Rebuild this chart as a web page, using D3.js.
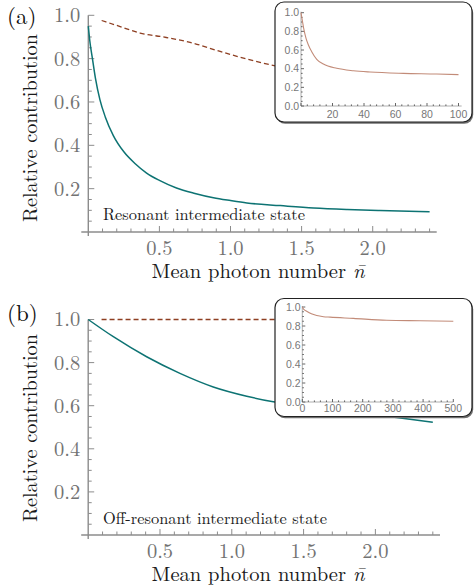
<!DOCTYPE html>
<html>
<head>
<meta charset="utf-8">
<script src="https://cdn.jsdelivr.net/npm/d3@7"></script>
<style>
  html, body { margin: 0; padding: 0; background: #fff; }
  svg { display: block; }
</style>
</head>
<body>
<svg id="fig" width="474" height="588"></svg>
<script>
// ---- Panel (a): resonant intermediate state ----
const nResTeal  = [0, 0.01, 0.029, 0.05, 0.082, 0.12, 0.176, 0.25, 0.33, 0.41, 0.5, 0.62, 0.75, 0.88, 1.0, 1.115, 1.35, 1.585, 1.82, 2.05, 2.4];
const vResTeal  = [0.95, 0.885, 0.80, 0.71, 0.61, 0.53, 0.445, 0.37, 0.315, 0.272, 0.238, 0.203, 0.178, 0.158, 0.145, 0.134, 0.122, 0.111, 0.104, 0.099, 0.093];
const nResDash  = [0.094, 0.224, 0.364, 0.528, 0.716, 0.927, 1.115, 1.315, 1.45];
const vResDash  = [0.976, 0.948, 0.918, 0.90, 0.875, 0.833, 0.798, 0.767, 0.75];
const nResInset = [0, 0.8, 1.9, 3.2, 4.7, 6.8, 10, 14.2, 22.7, 33.2, 43.8, 65, 86, 100];
const vResInset = [1.0, 0.92, 0.815, 0.725, 0.654, 0.582, 0.50, 0.45, 0.404, 0.378, 0.364, 0.35, 0.343, 0.336];

// ---- Panel (b): off-resonant intermediate state ----
const nOffTeal  = [0, 0.175, 0.407, 0.639, 0.871, 1.104, 1.289, 1.5, 1.75, 2.0, 2.148, 2.4];
const vOffTeal  = [1.0, 0.92, 0.827, 0.75, 0.687, 0.644, 0.618, 0.598, 0.578, 0.558, 0.545, 0.523];
const nOffDash  = [0.093, 2.4];
const vOffDash  = [1.0, 1.0];
const nOffInset = [0, 5, 14.5, 30, 47.7, 70, 92, 169, 279, 390, 500];
const vOffInset = [1.0, 0.975, 0.955, 0.928, 0.91, 0.898, 0.893, 0.88, 0.86, 0.855, 0.85];

// ---- Tick values and labels ----
const mainYTicks = [0.2, 0.4, 0.6, 0.8, 1.0];
const mainXTicks = [0.5, 1.0, 1.5, 2.0];
const insetYTicks = [0, 0.2, 0.4, 0.6, 0.8, 1.0];
const insetXTicksRes = [20, 40, 60, 80, 100];
const insetXTicksOff = [0, 100, 200, 300, 400, 500];

const yTitle = "Relative contribution";
const panelLabels = ["(a)", "(b)"];
const notes = ["Resonant intermediate state", "Off-resonant intermediate state"];

const zip = (xs, ys) => xs.map((x, i) => [x, ys[i]]);

const svg = d3.select("#fig");
const SERIF = '"Latin Modern Roman", "Liberation Serif", "Times New Roman", serif';
const SANS = '"Liberation Sans", Arial, "DejaVu Sans", sans-serif';
const TEAL = "#0d7373";
const BROWN = "#8e3f22";
const INSET_LINE = "#c28b78";
const AXIS = "#8c8c8c";

function drawPanel(cfg) {
  const g = svg.append("g");
  const x = d3.scaleLinear().domain([0, 2.45]).range([cfg.x0, cfg.x1]);
  const y = d3.scaleLinear().domain([0, 1]).range([cfg.y0, cfg.y1]);

  // axis lines, crossing at the origin
  g.append("line").attr("x1", cfg.x0 - 7).attr("x2", cfg.x1)
    .attr("y1", cfg.y0).attr("y2", cfg.y0)
    .attr("stroke", AXIS).attr("stroke-width", 1.4);
  g.append("line").attr("x1", cfg.x0).attr("x2", cfg.x0)
    .attr("y1", cfg.y1).attr("y2", cfg.y0 + 4)
    .attr("stroke", AXIS).attr("stroke-width", 1.4);

  // y ticks: minor every 0.05, major every 0.2
  d3.range(1, 21).forEach(i => {
    const v = i * 0.05;
    const major = i % 4 === 0;
    g.append("line").attr("x1", cfg.x0).attr("x2", cfg.x0 + (major ? 6 : 3.5))
      .attr("y1", y(v)).attr("y2", y(v))
      .attr("stroke", AXIS).attr("stroke-width", 1);
  });
  // x ticks: minor every 0.1, major every 0.5
  d3.range(1, 25).forEach(i => {
    const v = i * 0.1;
    const major = i % 5 === 0;
    g.append("line").attr("x1", x(v)).attr("x2", x(v))
      .attr("y1", cfg.y0).attr("y2", cfg.y0 - (major ? 6 : 3.5))
      .attr("stroke", AXIS).attr("stroke-width", 1);
  });

  // tick labels
  g.selectAll(".yl").data(mainYTicks).enter().append("text")
    .style("font-family", SERIF)
    .attr("x", cfg.x0 - 8).attr("y", d => y(d)).attr("dy", "0.34em")
    .attr("text-anchor", "end").attr("font-size", 20.5)
    .attr("fill", "#737373").text(d => d.toFixed(1));
  g.selectAll(".xl").data(mainXTicks).enter().append("text")
    .style("font-family", SERIF)
    .attr("x", d => x(d)).attr("y", cfg.y0 + 22.5)
    .attr("text-anchor", "middle").attr("font-size", 20.5)
    .attr("fill", "#737373").text(d => d.toFixed(1));

  // axis titles
  g.append("text").style("font-family", SERIF)
    .attr("transform", `translate(37,${cfg.titleY}) rotate(-90)`)
    .attr("text-anchor", "middle").attr("font-size", 20.5)
    .attr("fill", "#1a1a1a").attr("textLength", 188).attr("lengthAdjust", "spacingAndGlyphs")
    .text(yTitle);
  const xt = g.append("text").style("font-family", SERIF)
    .attr("x", 258).attr("y", cfg.y0 + 45.5)
    .attr("text-anchor", "middle").attr("font-size", 20.5)
    .attr("fill", "#1a1a1a").attr("textLength", 213).attr("lengthAdjust", "spacingAndGlyphs");
  xt.append("tspan").text("Mean photon number ");
  xt.append("tspan").attr("font-style", "italic").text("n\u0304");

  // panel label
  g.append("text").style("font-family", SERIF).attr("x", 7).attr("y", cfg.labelY)
    .attr("font-size", 23).attr("fill", "#111")
    .text(cfg.label);

  // annotation
  g.append("text").style("font-family", SERIF).attr("x", 103).attr("y", cfg.noteY)
    .attr("font-size", 16.5).attr("fill", "#1a1a1a")
    .attr("textLength", cfg.noteLen).attr("lengthAdjust", "spacingAndGlyphs")
    .text(cfg.note);

  const line = d3.line().x(d => x(d[0])).y(d => y(d[1])).curve(d3.curveMonotoneX);

  g.append("path").datum(cfg.dash).attr("d", line)
    .attr("fill", "none").attr("stroke", BROWN).attr("stroke-width", 1.3)
    .attr("stroke-dasharray", "5,3");
  g.append("path").datum(cfg.teal).attr("d", line)
    .attr("fill", "none").attr("stroke", TEAL).attr("stroke-width", 1.5);

  // inset with the large-n behaviour
  const ins = cfg.inset;
  const ig = svg.append("g");
  ig.append("rect").attr("x", ins.bx + 1.2).attr("y", ins.by + 1.8)
    .attr("width", ins.bw).attr("height", ins.bh).attr("rx", 9)
    .attr("fill", "#6f6f6f");
  ig.append("rect").attr("x", ins.bx).attr("y", ins.by)
    .attr("width", ins.bw).attr("height", ins.bh).attr("rx", 9)
    .attr("fill", "#fff").attr("stroke", "#222").attr("stroke-width", 1.2);

  const ix = d3.scaleLinear().domain([0, ins.xmax]).range([ins.x0, ins.x1]);
  const iy = d3.scaleLinear().domain([0, 1]).range([ins.y0, ins.y1]);

  ig.append("line").attr("x1", ins.x0).attr("x2", ix(ins.xend))
    .attr("y1", ins.y0).attr("y2", ins.y0).attr("stroke", "#9a9a9a").attr("stroke-width", 0.8);
  ig.append("line").attr("x1", ins.x0).attr("x2", ins.x0)
    .attr("y1", iy(1.0) - 1).attr("y2", ins.y0).attr("stroke", "#9a9a9a").attr("stroke-width", 0.8);

  d3.range(0, 21).forEach(i => {
    const v = i * 0.05;
    const major = i % 4 === 0;
    ig.append("line").attr("x1", ins.x0).attr("x2", ins.x0 + (major ? 3 : 1.6))
      .attr("y1", iy(v)).attr("y2", iy(v)).attr("stroke", "#555").attr("stroke-width", 0.9);
  });
  d3.range(0, Math.floor(ins.xend / ins.minor) + 1).forEach(i => {
    const v = i * ins.minor;
    const major = Math.abs(v / ins.major - Math.round(v / ins.major)) < 1e-6;
    ig.append("line").attr("x1", ix(v)).attr("x2", ix(v))
      .attr("y1", ins.y0).attr("y2", ins.y0 - (major ? 3 : 1.6))
      .attr("stroke", "#555").attr("stroke-width", 0.9);
  });

  ig.selectAll(".iyl").data(insetYTicks).enter().append("text")
    .style("font-family", SANS)
    .attr("x", ins.x0 - 1.8).attr("y", d => iy(d)).attr("dy", "0.35em")
    .attr("text-anchor", "end").attr("font-size", 10.5)
    .attr("fill", "#777").text(d => d.toFixed(1));
  ig.selectAll(".ixl").data(ins.xticks).enter().append("text")
    .style("font-family", SANS)
    .attr("x", d => ix(d)).attr("y", ins.y0 + ins.xlabOff)
    .attr("text-anchor", "middle").attr("font-size", 10.5)
    .attr("fill", "#777").text(d => d);

  const iline = d3.line().x(d => ix(d[0])).y(d => iy(d[1])).curve(d3.curveMonotoneX);
  ig.append("path").datum(ins.data).attr("d", iline)
    .attr("fill", "none").attr("stroke", INSET_LINE).attr("stroke-width", 1.1);
}

drawPanel({
  x0: 88.3, x1: 436.7, y0: 232, y1: 15.3,
  titleY: 128, labelY: 23.5, noteY: 220, note: notes[0], noteLen: 202, label: panelLabels[0],
  teal: zip(nResTeal, vResTeal), dash: zip(nResDash, vResDash),
  inset: {
    bx: 275, by: 2, bw: 197, bh: 120,
    x0: 301, x1: 458.5, xmax: 100, xend: 102, y0: 106, y1: 12.7,
    minor: 4, major: 20, xticks: insetXTicksRes, xlabOff: 11.5,
    data: zip(nResInset, vResInset)
  }
});

drawPanel({
  x0: 88.2, x1: 440, y0: 535, y1: 319.5,
  titleY: 428, labelY: 321, noteY: 524, note: notes[1], noteLen: 224, label: panelLabels[1],
  teal: zip(nOffTeal, vOffTeal), dash: zip(nOffDash, vOffDash),
  inset: {
    bx: 275, by: 298.5, bw: 197, bh: 118,
    x0: 302.3, x1: 453.3, xmax: 500, xend: 500, y0: 402, y1: 307,
    minor: 20, major: 100, xticks: insetXTicksOff, xlabOff: 9.5,
    data: zip(nOffInset, vOffInset)
  }
});
</script>
</body>
</html>
